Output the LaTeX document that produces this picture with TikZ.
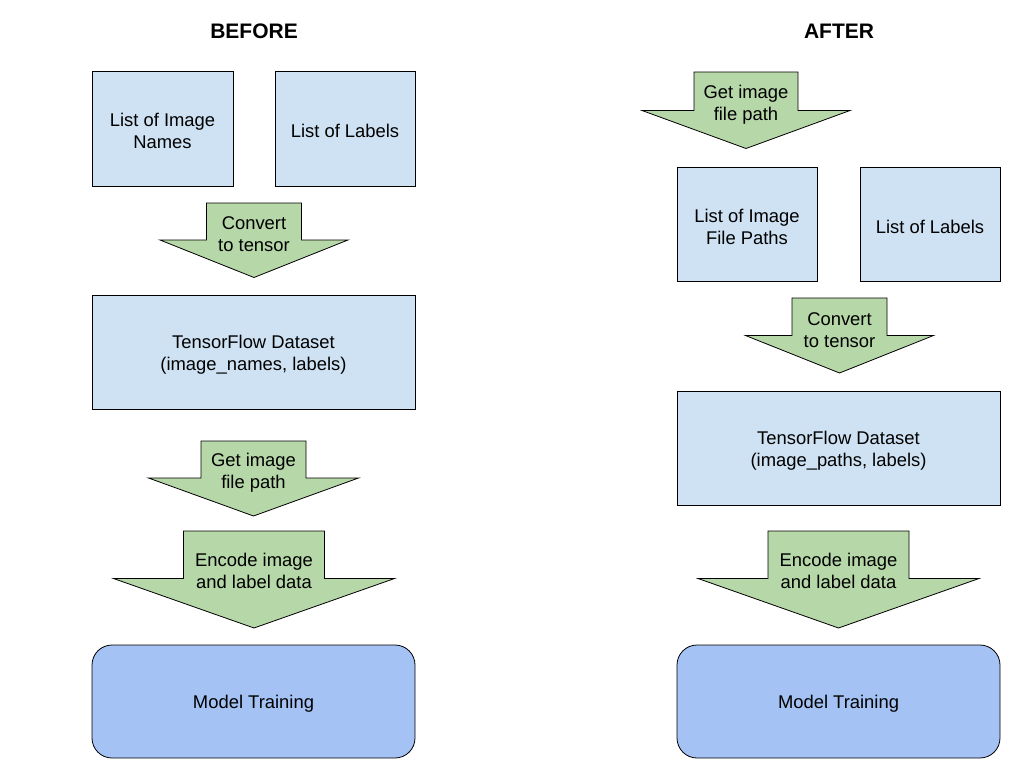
\documentclass[tikz,border=0pt]{standalone}
\usepackage{fontspec}
\setmainfont{Liberation Sans}
\definecolor{boxblue}{HTML}{CFE2F3}
\definecolor{arrgreen}{HTML}{B6D7A8}
\definecolor{modelblue}{HTML}{A4C2F4}
\newcommand{\fs}{\fontsize{18.4}{22}\selectfont}
\newcommand{\garrow}[6]{% cx, top, shaft half width, shaft bottom, head half width, tip
  \draw[arr] (#1-#3,#2) -- (#1+#3,#2) -- (#1+#3,#4) -- (#1+#5,#4) -- (#1,#6) -- (#1-#5,#4) -- (#1-#3,#4) -- cycle;}
\begin{document}
\begin{tikzpicture}[x=1pt,y=-1pt,
  box/.style={draw=black, line width=0.8pt, fill=boxblue, align=center, font=\fs, inner sep=0pt, text depth=0pt},
  model/.style={box, fill=modelblue, rounded corners=20pt},
  arr/.style={draw=black, line width=0.8pt, fill=arrgreen, line join=miter},
  lbl/.style={align=center, font=\fs, inner sep=0pt, yshift=-2.5pt},
  title/.style={font=\fontsize{21}{24}\selectfont\bfseries, inner sep=0pt}]
\useasboundingbox (0,0) rectangle (1024,768);
% titles
\node[title] (tb) at (254,31) {BEFORE};
\node[title] (ta) at (839,31) {AFTER};
% ---------- BEFORE ----------
\node[box, minimum width=141pt, minimum height=115pt] (names) at (162.5,128.5) {};
\node[lbl] at (names.center) {List of Image\\Names};
\node[box, minimum width=140pt, minimum height=115pt] (labels1) at (345,128.5) {};
\node[lbl] at (labels1.center) {List of Labels};
\garrow{254}{203}{47.5}{240}{94}{277.5}
\node[lbl] (conv1) at (254,232) {Convert\\to tensor};
\node[box, minimum width=323pt, minimum height=114pt] (ds1) at (253.5,352) {};
\node[lbl] at (ds1.center) {TensorFlow Dataset\\(image\_names, labels)};
\garrow{253.5}{441}{52.5}{478}{105}{516}
\node[lbl] (get1) at (253.5,470) {Get image\\file path};
\garrow{254}{531}{70.5}{578.5}{140.5}{628}
\node[lbl] (enc1) at (254,568) {Encode image\\and label data};
\node[model, minimum width=323pt, minimum height=113pt] (mt1) at (253.5,701.5) {};
\node[lbl] at (mt1.center) {Model Training};
% ---------- AFTER ----------
\garrow{746}{72}{52}{110.5}{104}{148.5}
\node[lbl] (get2) at (746,102) {Get image\\file path};
\node[box, minimum width=140pt, minimum height=114pt] (paths) at (747,224) {};
\node[lbl] at (paths.center) {List of Image\\File Paths};
\node[box, minimum width=140pt, minimum height=114pt] (labels2) at (930,224) {};
\node[lbl] at (labels2.center) {List of Labels};
\garrow{839.5}{298}{47.5}{335.5}{94}{373}
\node[lbl] (conv2) at (839.5,328) {Convert\\to tensor};
\node[box, minimum width=323pt, minimum height=114pt] (ds2) at (838.5,448) {};
\node[lbl] at (ds2.center) {TensorFlow Dataset\\(image\_paths, labels)};
\garrow{838.5}{531}{70.5}{578.5}{140.5}{628}
\node[lbl] (enc2) at (838.5,568) {Encode image\\and label data};
\node[model, minimum width=323pt, minimum height=113pt] (mt2) at (838.5,701.5) {};
\node[lbl] at (mt2.center) {Model Training};
\end{tikzpicture}
\end{document}
